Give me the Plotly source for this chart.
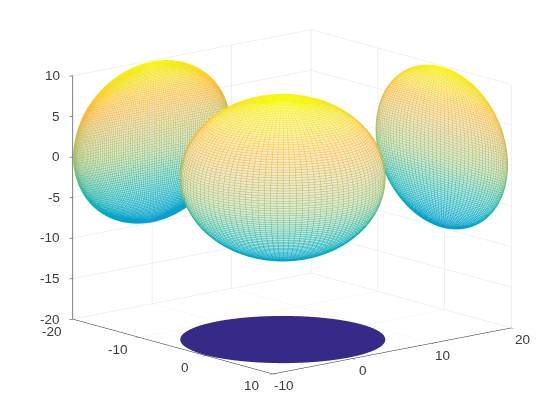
import numpy as np
import plotly.graph_objects as go

# sphere size and wall positions
radius = 9.88
center_x = -0.3
center_y = -0.1
mesh_n = 100
wall_mesh_n = 101
left_wall_x = -20
right_wall_y = 20
floor_z = -20

x_ticks = [-20, -10, 0, 10]
y_ticks = [-10, 0, 10, 20]
z_ticks = [-20, -15, -10, -5, 0, 5, 10]
x_range = [-20, 10]
y_range = [-10, 20]
z_range = [-20, 10]

disc_color = "#352a87"
label_color = "#3a3a3a"
parula = [
    "#352a87", "#363ca4", "#2f55c7", "#0f5cdd", "#036fe0", "#127dd7",
    "#1489d4", "#108fd1", "#0a98d1", "#06a0cc", "#05a7c6", "#0eaebb",
    "#1fb3ae", "#38b99e", "#5abb8e", "#7fbf7e", "#9bbf70", "#aebd6a",
    "#c2bc60", "#d3bb59", "#e9ba49", "#f9bb40", "#fec732", "#f5dc24",
    "#f5e71c", "#f9fb0e",
]
parula_scale = [[i / (len(parula) - 1), c] for i, c in enumerate(parula)]
# cells between the mesh lines read as a pale tint of the line colour
cell_white = 0.68


def tint(color):
    rgb = [int(color[i:i + 2], 16) for i in (1, 3, 5)]
    return "rgb(%d,%d,%d)" % tuple(v + (255 - v) * cell_white for v in rgb)


cell_scale = [[i / (len(parula) - 1), tint(c)] for i, c in enumerate(parula)]


def sphere_grid(n):
    theta = np.linspace(-np.pi, np.pi, n + 1)
    phi = np.linspace(-np.pi / 2, np.pi / 2, mesh_n + 1)
    t, p = np.meshgrid(theta, phi)
    return (center_x + radius * np.cos(p) * np.cos(t),
            center_y + radius * np.cos(p) * np.sin(t),
            radius * np.sin(p))


def mesh_lines(x, y, z):
    # every row and column of the grid as one polyline
    xs, ys, zs = [], [], []
    for a, b, c in [(x, y, z), (x.T, y.T, z.T)]:
        for i in range(a.shape[0]):
            xs += list(a[i]) + [np.nan]
            ys += list(b[i]) + [np.nan]
            zs += list(c[i]) + [np.nan]
    return np.array(xs), np.array(ys), np.array(zs)


flat_light = dict(ambient=1, diffuse=0, specular=0, roughness=1, fresnel=0)
fig = go.Figure()


def add_body(x, y, z, height):
    # pale body so the mesh hides what is behind it
    fig.add_trace(go.Surface(
        x=x, y=y, z=z,
        surfacecolor=height, cmin=z_range[0], cmax=z_range[1],
        colorscale=cell_scale,
        showscale=False, lighting=flat_light, hoverinfo="skip",
    ))


def add_mesh(x, y, z):
    lx, ly, lz = mesh_lines(x, y, z)
    fig.add_trace(go.Scatter3d(
        x=lx, y=ly, z=lz, mode="lines",
        line=dict(color=np.nan_to_num(lz), colorscale=parula_scale, cmin=z_range[0], cmax=z_range[1], width=1),
        hoverinfo="skip", showlegend=False,
    ))


# middle sphere
sx, sy, sz = sphere_grid(mesh_n)
add_body(center_x + (sx - center_x) * 0.985, center_y + (sy - center_y) * 0.985, sz * 0.985, sz)
add_mesh(sx, sy, sz)
# flat copies on the two walls, odd count so front and back lines interleave
wx, wy, wz = sphere_grid(wall_mesh_n)
add_body(np.full_like(wx, left_wall_x + 0.05), wy, wz, wz)
add_mesh(np.full_like(wx, left_wall_x + 0.1), wy, wz)
add_body(wx, np.full_like(wx, right_wall_y - 0.05), wz, wz)
add_mesh(wx, np.full_like(wx, right_wall_y - 0.1), wz)
# flat copy on the floor
fig.add_trace(go.Surface(
    x=sx, y=sy, z=np.full_like(sx, floor_z + 0.05),
    surfacecolor=np.zeros_like(sx),
    colorscale=[[0, disc_color], [1, disc_color]],
    showscale=False, lighting=flat_light, hoverinfo="skip",
))

axis_style = dict(
    showbackground=False, showgrid=True, gridcolor="#e4e4e4", gridwidth=1,
    showline=True, linecolor="#262626", linewidth=1, zeroline=False,
    ticks="outside", ticklen=4, tickcolor="#262626", title="", showspikes=False,
    showticklabels=False,
)


def tick_label(x, y, z, text, xshift, yshift, xanchor="center"):
    return dict(
        x=x, y=y, z=z, text=text, showarrow=False, xshift=xshift, yshift=yshift, xanchor=xanchor,
        font=dict(family="Liberation Sans", size=13.5, color=label_color),
    )


labels = []
labels += [tick_label(v, y_range[0], z_range[0], str(v), -21, -12) for v in x_ticks]
labels += [tick_label(x_range[1], v, z_range[0], str(v), 11, -12) for v in y_ticks]
labels += [tick_label(x_range[0], y_range[0], v, str(v), -11, 0, "right") for v in z_ticks]

# az 50, el 13.3
az = np.radians(50)
el = np.radians(13.3)
eye_len = 2.0
box_scale = 1.483
view_dir = np.array([np.sin(az) * np.cos(el), -np.cos(az) * np.cos(el), np.sin(el)])
screen_right = np.array([np.cos(az), np.sin(az), 0.0])
screen_up = np.cross(view_dir, screen_right)
if screen_up[2] < 0:
    screen_up = -screen_up
center = -0.057 * screen_right - 0.039 * screen_up
eye = center + eye_len * view_dir

fig.update_layout(
    width=560, height=420, margin=dict(l=0, r=0, t=0, b=0),
    paper_bgcolor="white", showlegend=False,
    scene=dict(
        domain=dict(x=[0, 1], y=[0, 1]),
        aspectmode="manual", aspectratio=dict(x=box_scale, y=box_scale, z=0.803 * box_scale),
        camera=dict(
            projection=dict(type="orthographic"),
            eye=dict(x=eye[0], y=eye[1], z=eye[2]),
            up=dict(x=0, y=0, z=1),
            center=dict(x=center[0], y=center[1], z=center[2]),
        ),
        xaxis=dict(axis_style, range=x_range, tickvals=x_ticks),
        yaxis=dict(axis_style, range=y_range, tickvals=y_ticks),
        zaxis=dict(axis_style, range=z_range, tickvals=z_ticks, linecolor="#808080", linewidth=2),
        annotations=labels,
    ),
)

fig.write_html("out.html", config=dict(displayModeBar=False), post_script="document.body.style.margin='0';")
